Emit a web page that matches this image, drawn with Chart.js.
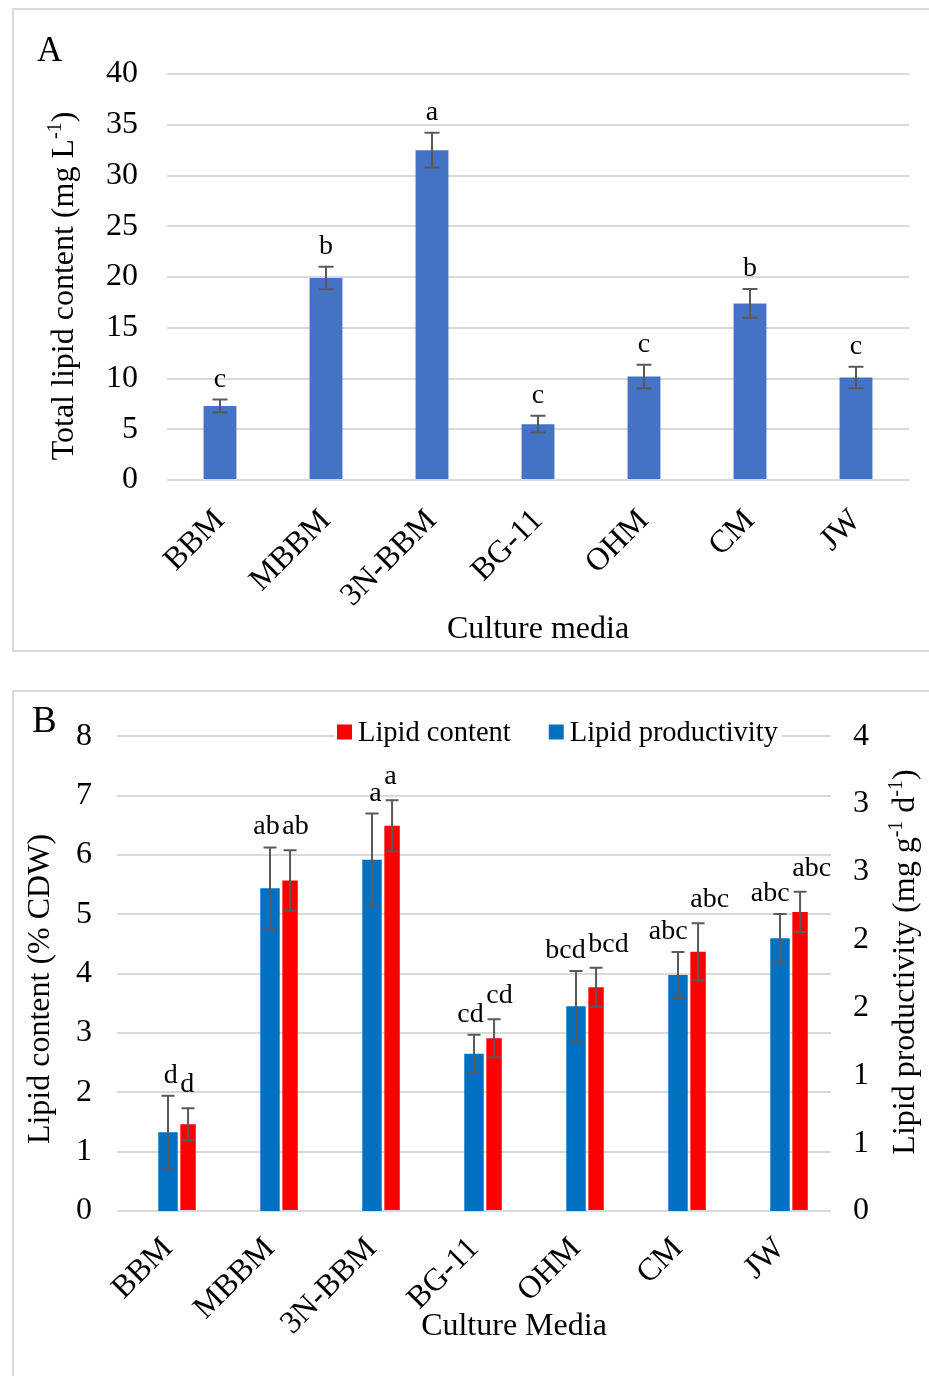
<!DOCTYPE html>
<html>
<head>
<meta charset="utf-8">
<script src="https://cdn.jsdelivr.net/npm/chart.js@4.4.1/dist/chart.umd.min.js"></script>
<style>
  html, body { margin: 0; padding: 0; background: #fff; overflow: hidden; }
  body { width: 929px; height: 1376px; position: relative; }
  .panel { position: absolute; left: 12px; width: 1000px; border: 2px solid #d9d9d9; }
  #boxA { top: 8px; height: 640px; }
  #boxB { top: 690px; height: 720px; }
  canvas { display: block; }
</style>
</head>
<body>
<div class="panel" id="boxA"><canvas id="chartA" width="915" height="640"></canvas></div>
<div class="panel" id="boxB"><canvas id="chartB" width="915" height="684"></canvas></div>
<script>
const media = ['BBM', 'MBBM', '3N-BBM', 'BG-11', 'OHM', 'CM', 'JW'];

// panel A: total lipid content (mg/L)
const totalLipid = [7.3, 19.9, 32.5, 5.5, 10.2, 17.4, 10.1];
const totalLipidErr = [0.63, 1.1, 1.7, 0.83, 1.15, 1.42, 1.05];
const totalLipidLetters = ['c', 'b', 'a', 'c', 'c', 'b', 'c'];
const ticksA = [0, 5, 10, 15, 20, 25, 30, 35, 40];

// panel B: lipid content (% CDW, left axis) and lipid productivity (right axis)
const lipidContent = [1.46, 5.57, 6.49, 2.91, 3.77, 4.37, 5.04];
const lipidContentErr = [0.27, 0.51, 0.43, 0.32, 0.33, 0.48, 0.34];
const lipidContentLetters = ['d', 'ab', 'a', 'cd', 'bcd', 'abc', 'abc'];
const lipidProd = [0.58, 2.38, 2.59, 1.16, 1.51, 1.74, 2.01];
const lipidProdErr = [0.27, 0.30, 0.34, 0.14, 0.26, 0.17, 0.18];
const lipidProdLetters = ['d', 'ab', 'a', 'cd', 'bcd', 'abc', 'abc'];
const spacer = [0, 0, 0, 0, 0, 0, 0];
const ticksBLeft = [0, 1, 2, 3, 4, 5, 6, 7, 8];
const ticksBRight = [0, 0.5, 1, 1.5, 2, 2.5, 3, 3.5];
const ticksBRightLabels = ['0', '1', '1', '2', '2', '3', '3', '4'];

const FONT = '"Liberation Serif"';
Chart.defaults.font.family = FONT;
Chart.defaults.color = '#000';

// text with superscripts, centred on (x, y) baseline, optionally rotated
function richText(ctx, parts, x, y, size, rotate) {
  const big = size + 'px ' + FONT;
  const small = Math.round(size * 0.62) + 'px ' + FONT;
  ctx.save();
  ctx.translate(x, y);
  if (rotate) ctx.rotate(-Math.PI / 2);
  let w = 0;
  parts.forEach(p => { ctx.font = p.sup ? small : big; w += ctx.measureText(p.t).width; });
  let cx = -w / 2;
  ctx.fillStyle = '#000';
  ctx.textAlign = 'left';
  ctx.textBaseline = 'alphabetic';
  parts.forEach(p => {
    ctx.font = p.sup ? small : big;
    ctx.fillText(p.t, cx, p.sup ? -size * 0.36 : 0);
    cx += ctx.measureText(p.t).width;
  });
  ctx.restore();
}

// error bars + significance letters, read from dataset.errors / dataset.letters
const errorBarPlugin = {
  id: 'errorBars',
  afterDatasetsDraw(chart, args, opts) {
    const ctx = chart.ctx;
    chart.data.datasets.forEach((ds, di) => {
      if (!ds.errors) return;
      const meta = chart.getDatasetMeta(di);
      const scale = chart.scales[meta.yAxisID];
      meta.data.forEach((bar, i) => {
        const v = ds.data[i];
        const top = scale.getPixelForValue(v + ds.errors[i]);
        const bot = scale.getPixelForValue(v - ds.errors[i]);
        ctx.save();
        ctx.strokeStyle = '#595959';
        ctx.lineWidth = 2;
        ctx.beginPath();
        ctx.moveTo(bar.x, top); ctx.lineTo(bar.x, bot);
        ctx.moveTo(bar.x - opts.cap, top); ctx.lineTo(bar.x + opts.cap, top);
        ctx.moveTo(bar.x - opts.cap, bot); ctx.lineTo(bar.x + opts.cap, bot);
        ctx.stroke();
        ctx.fillStyle = '#000';
        ctx.font = '28px ' + FONT;
        ctx.textBaseline = 'alphabetic';
        const la = ds.letterAlign || 'center';
        let lx = bar.x;
        if (la === 'right') lx = bar.x + bar.width / 2;
        if (la === 'left') lx = bar.x - bar.width / 2;
        ctx.textAlign = la;
        ctx.fillText(ds.letters[i], lx, top - (ds.letterGap || 12));
        ctx.restore();
      });
    });
  }
};

// panel letters and axis titles
const titlesPlugin = {
  id: 'titles',
  afterDraw(chart, args, opts) {
    const ctx = chart.ctx;
    ctx.save();
    ctx.fillStyle = '#000';
    ctx.font = opts.panel.size + 'px ' + FONT;
    ctx.textAlign = 'left';
    ctx.fillText(opts.panel.text, opts.panel.x, opts.panel.y);
    ctx.restore();
    opts.items.forEach(it => richText(ctx, it.parts, it.x, it.y, 32, it.rotate));
  }
};

// legend drawn inside the plot, over the top gridline
const legendPlugin = {
  id: 'innerLegend',
  afterDraw(chart, args, opts) {
    if (!opts.items) return;
    const ctx = chart.ctx;
    ctx.save();
    ctx.font = '28.5px ' + FONT;
    let w = 0;
    opts.items.forEach(di => { w += 21 + ctx.measureText(chart.data.datasets[di].label).width; });
    w += 38 * (opts.items.length - 1);
    ctx.fillStyle = '#fff';
    ctx.fillRect(opts.x - 2, opts.y - 14, w + 6, 28);
    let x = opts.x;
    opts.items.forEach(di => {
      const ds = chart.data.datasets[di];
      ctx.fillStyle = ds.backgroundColor;
      ctx.fillRect(x, opts.y - 7.5, 15, 15);
      x += 21;
      ctx.fillStyle = '#000';
      ctx.textBaseline = 'alphabetic';
      ctx.fillText(ds.label, x, opts.y + 9);
      x += ctx.measureText(ds.label).width + 38;
    });
    ctx.restore();
  }
};

const gridStyle = { color: '#d9d9d9', lineWidth: 2, drawTicks: false };

new Chart(document.getElementById('chartA'), {
  type: 'bar',
  data: {
    labels: media,
    datasets: [{
      label: 'Total lipid content',
      data: totalLipid,
      errors: totalLipidErr,
      letters: totalLipidLetters,
      letterGap: 13,
      backgroundColor: '#4472C4',
      barPercentage: 0.31,
      categoryPercentage: 1
    }]
  },
  options: {
    responsive: false,
    animation: false,
    devicePixelRatio: 1,
    layout: { padding: { top: 64, right: 20, left: 0, bottom: 0 } },
    plugins: {
      legend: { display: false },
      tooltip: { enabled: false },
      errorBars: { cap: 7.5 },
      titles: {
        panel: { text: 'A', x: 23, y: 51, size: 35 },
        items: [
          { parts: [{ t: 'Total lipid content (mg L' }, { t: '-1', sup: true }, { t: ')' }], x: 59, y: 276, rotate: true },
          { parts: [{ t: 'Culture media' }], x: 524, y: 628 }
        ]
      }
    },
    scales: {
      x: {
        grid: { display: false, drawTicks: false },
        border: { display: false },
        ticks: { minRotation: 45, maxRotation: 45, autoSkip: false, padding: 22, font: { size: 32 } },
        afterFit: s => { s.height = 170; }
      },
      y: {
        min: 0, max: 40,
        grid: gridStyle,
        border: { display: false },
        ticks: { padding: 29, font: { size: 32 } },
        afterBuildTicks: s => { s.ticks = ticksA.map(v => ({ value: v })); },
        afterFit: s => { s.width = 153; }
      }
    }
  },
  plugins: [errorBarPlugin, titlesPlugin]
});

new Chart(document.getElementById('chartB'), {
  type: 'bar',
  data: {
    labels: media,
    datasets: [
      {
        label: 'spacer',
        data: spacer,
        yAxisID: 'y',
        backgroundColor: '#d9d9d9',
        barPercentage: 0.67,
        categoryPercentage: 0.59
      },
      {
        label: 'Lipid productivity',
        data: lipidProd,
        errors: lipidProdErr,
        letters: lipidProdLetters,
        letterAlign: 'right',
        letterGap: 13,
        yAxisID: 'y1',
        backgroundColor: '#0070C0',
        barPercentage: 0.97,
        categoryPercentage: 0.59
      },
      {
        label: 'Lipid content',
        data: lipidContent,
        errors: lipidContentErr,
        letters: lipidContentLetters,
        letterAlign: 'left',
        letterGap: 16,
        yAxisID: 'y',
        backgroundColor: '#FF0000',
        barPercentage: 0.77,
        categoryPercentage: 0.59
      }
    ]
  },
  options: {
    responsive: false,
    animation: false,
    devicePixelRatio: 1,
    layout: { padding: { top: 40, right: 0, left: 0, bottom: 0 } },
    plugins: {
      legend: { display: false },
      tooltip: { enabled: false },
      errorBars: { cap: 6.5 },
      innerLegend: { items: [2, 1], x: 323, y: 40 },
      titles: {
        panel: { text: 'B', x: 18, y: 40, size: 37 },
        items: [
          { parts: [{ t: 'Lipid content (% CDW)' }], x: 35, y: 297, rotate: true },
          { parts: [{ t: 'Lipid productivity (mg g' }, { t: '-1', sup: true }, { t: ' d' }, { t: '-1', sup: true }, { t: ')' }], x: 900, y: 270, rotate: true },
          { parts: [{ t: 'Culture Media' }], x: 500, y: 643 }
        ]
      }
    },
    scales: {
      x: {
        grid: { display: false, drawTicks: false },
        border: { display: false },
        ticks: { minRotation: 45, maxRotation: 45, autoSkip: false, padding: 19, font: { size: 32 } },
        afterFit: s => { s.height = 165; }
      },
      y: {
        position: 'left',
        min: 0, max: 8,
        grid: gridStyle,
        border: { display: false },
        ticks: { padding: 25, font: { size: 32 } },
        afterBuildTicks: s => { s.ticks = ticksBLeft.map(v => ({ value: v })); },
        afterFit: s => { s.width = 103; }
      },
      y1: {
        position: 'right',
        min: 0, max: 3.5,
        grid: { display: false, drawTicks: false },
        border: { display: false },
        ticks: { padding: 22, font: { size: 32 }, callback: (v, i) => ticksBRightLabels[i] },
        afterBuildTicks: s => { s.ticks = ticksBRight.map(v => ({ value: v })); },
        afterFit: s => { s.width = 98; }
      }
    }
  },
  plugins: [errorBarPlugin, legendPlugin, titlesPlugin]
});
</script>
</body>
</html>
